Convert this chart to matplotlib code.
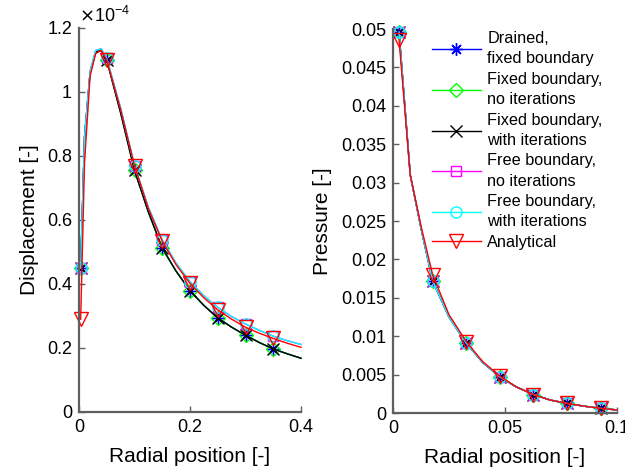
import numpy as np
import matplotlib
matplotlib.use("Agg")
import matplotlib.pyplot as plt
from matplotlib.ticker import FuncFormatter, FixedLocator

plt.rcParams['font.family'] = ['Liberation Sans', 'DejaVu Sans']

# ---------------- data: displacement (units of 1e-4) ----------------
r_disp = [0.003, 0.01, 0.02, 0.03, 0.04, 0.05, 0.075, 0.1, 0.125, 0.15, 0.175,
          0.2, 0.225, 0.25, 0.275, 0.3, 0.325, 0.35, 0.375, 0.4]
disp_fixed = [0.45, 0.86, 1.06, 1.125, 1.13, 1.10, 0.935, 0.755, 0.625, 0.512, 0.44,
              0.379, 0.333, 0.294, 0.265, 0.24, 0.217, 0.197, 0.182, 0.168]
disp_free = [0.45, 0.86, 1.065, 1.13, 1.135, 1.105, 0.95, 0.77, 0.64, 0.537, 0.465,
             0.407, 0.363, 0.327, 0.298, 0.275, 0.255, 0.237, 0.223, 0.211]
disp_analytical = [0.29, 0.78, 1.05, 1.12, 1.13, 1.10, 0.945, 0.77, 0.635, 0.534, 0.46,
                   0.402, 0.357, 0.319, 0.29, 0.265, 0.246, 0.23, 0.215, 0.202]
disp_marks = [0, 5, 7, 9, 11, 13, 15, 17]
disp_scale = 1e-4

# ---------------- data: pressure ----------------
r_pres = [0.0027, 0.0077, 0.0127, 0.0177, 0.025, 0.0327, 0.04, 0.0477, 0.055,
          0.0627, 0.07, 0.0777, 0.085, 0.0927, 0.1]
pres_num = [0.0496, 0.031, 0.0238, 0.0172, 0.0125, 0.0091, 0.0066, 0.0047, 0.0034,
            0.0024, 0.0017, 0.00125, 0.0009, 0.0006, 0.0004]
pres_analytical = [0.0486, 0.031, 0.0241, 0.0180, 0.0128, 0.0093, 0.0067, 0.0048, 0.0034,
                   0.0024, 0.0017, 0.00125, 0.0009, 0.0006, 0.0004]
pres_marks = [0, 3, 5, 7, 9, 11, 13]

labels = ["Drained,\nfixed boundary", "Fixed boundary,\nno iterations",
          "Fixed boundary,\nwith iterations", "Free boundary,\nno iterations",
          "Free boundary,\nwith iterations", "Analytical"]
colors = ["#0000ff", "#00ff00", "#000000", "#ff00ff", "#00ffff", "#ff0000"]
markers = [(8, 2, 0), "D", "x", "s", "o", "v"]
msizes = [9, 7, 8, 6.5, 8, 9.5]

disp_series = [disp_fixed, disp_fixed, disp_fixed, disp_free, disp_free, disp_analytical]
pres_series = [pres_num, pres_num, pres_num, pres_num, pres_num, pres_analytical]

fig = plt.figure(figsize=(6.25, 4.72), dpi=100)
ax1 = fig.add_axes([79/625, 1-412/472, 222/625, 384/472])
ax2 = fig.add_axes([393/625, 1-413/472, 224/625, 384/472])

spine_col = "#606060"
for ax in (ax1, ax2):
    for s in ("top", "right"):
        ax.spines[s].set_visible(False)
    for s in ("left", "bottom"):
        ax.spines[s].set_color(spine_col)
        ax.spines[s].set_linewidth(1.6)
    ax.tick_params(direction="in", length=4, width=1, color=spine_col,
                   labelsize=13, labelcolor="black", pad=5)

handles = []
for vals, c, m, ms, lab in zip(disp_series, colors, markers, msizes, labels):
    y = np.array(vals) * disp_scale
    h, = ax1.plot(r_disp, y, color=c, marker=m, markersize=ms, markevery=disp_marks,
                  fillstyle="none", markeredgewidth=1.0, linewidth=1.0, label=lab,
                  clip_on=False)
    handles.append(h)

for vals, c, m, ms in zip(pres_series, colors, markers, msizes):
    ax2.plot(r_pres, vals, color=c, marker=m, markersize=ms, markevery=pres_marks,
             fillstyle="none", markeredgewidth=1.0, linewidth=1.0, clip_on=False)

ax1.set_xlim(0, 0.4)
ax1.set_ylim(0, 1.2e-4)
ax1.xaxis.set_major_locator(FixedLocator([0, 0.2, 0.4]))
ax1.yaxis.set_major_locator(FixedLocator(np.arange(0, 1.21, 0.2) * 1e-4))
ax1.xaxis.set_major_formatter(FuncFormatter(lambda v, p: f"{v:g}"))
ax1.yaxis.set_major_formatter(FuncFormatter(lambda v, p: f"{round(v*1e4, 6):g}"))
ax1.text(0.0, 1.005, r"$\times$10$^{\mathregular{-4}}$", transform=ax1.transAxes,
         ha="left", va="bottom", fontsize=13)
ax1.set_xlabel("Radial position [-]", fontsize=15, labelpad=8)
ax1.set_ylabel("Displacement [-]", fontsize=15, labelpad=6)

ax2.set_xlim(0, 0.1)
ax2.set_ylim(0, 0.05)
ax2.xaxis.set_major_locator(FixedLocator([0, 0.05, 0.1]))
ax2.yaxis.set_major_locator(FixedLocator(np.linspace(0, 0.05, 11)))
ax2.xaxis.set_major_formatter(FuncFormatter(lambda v, p: f"{round(v, 6):g}"))
ax2.yaxis.set_major_formatter(FuncFormatter(lambda v, p: f"{round(v, 6):g}"))
ax2.set_xlabel("Radial position [-]", fontsize=15, labelpad=8)
ax2.set_ylabel("Pressure [-]", fontsize=15, labelpad=6)

leg = fig.legend(handles=handles, loc="upper left", bbox_to_anchor=(432/625, 1-31/472),
                 bbox_transform=fig.transFigure, frameon=False, fontsize=11.7,
                 handlelength=3.0, handletextpad=0.4, labelspacing=0.33,
                 borderpad=0, borderaxespad=0)
for t in leg.get_texts():
    t.set_linespacing(1.45)

fig.savefig("out.png", dpi=100)
